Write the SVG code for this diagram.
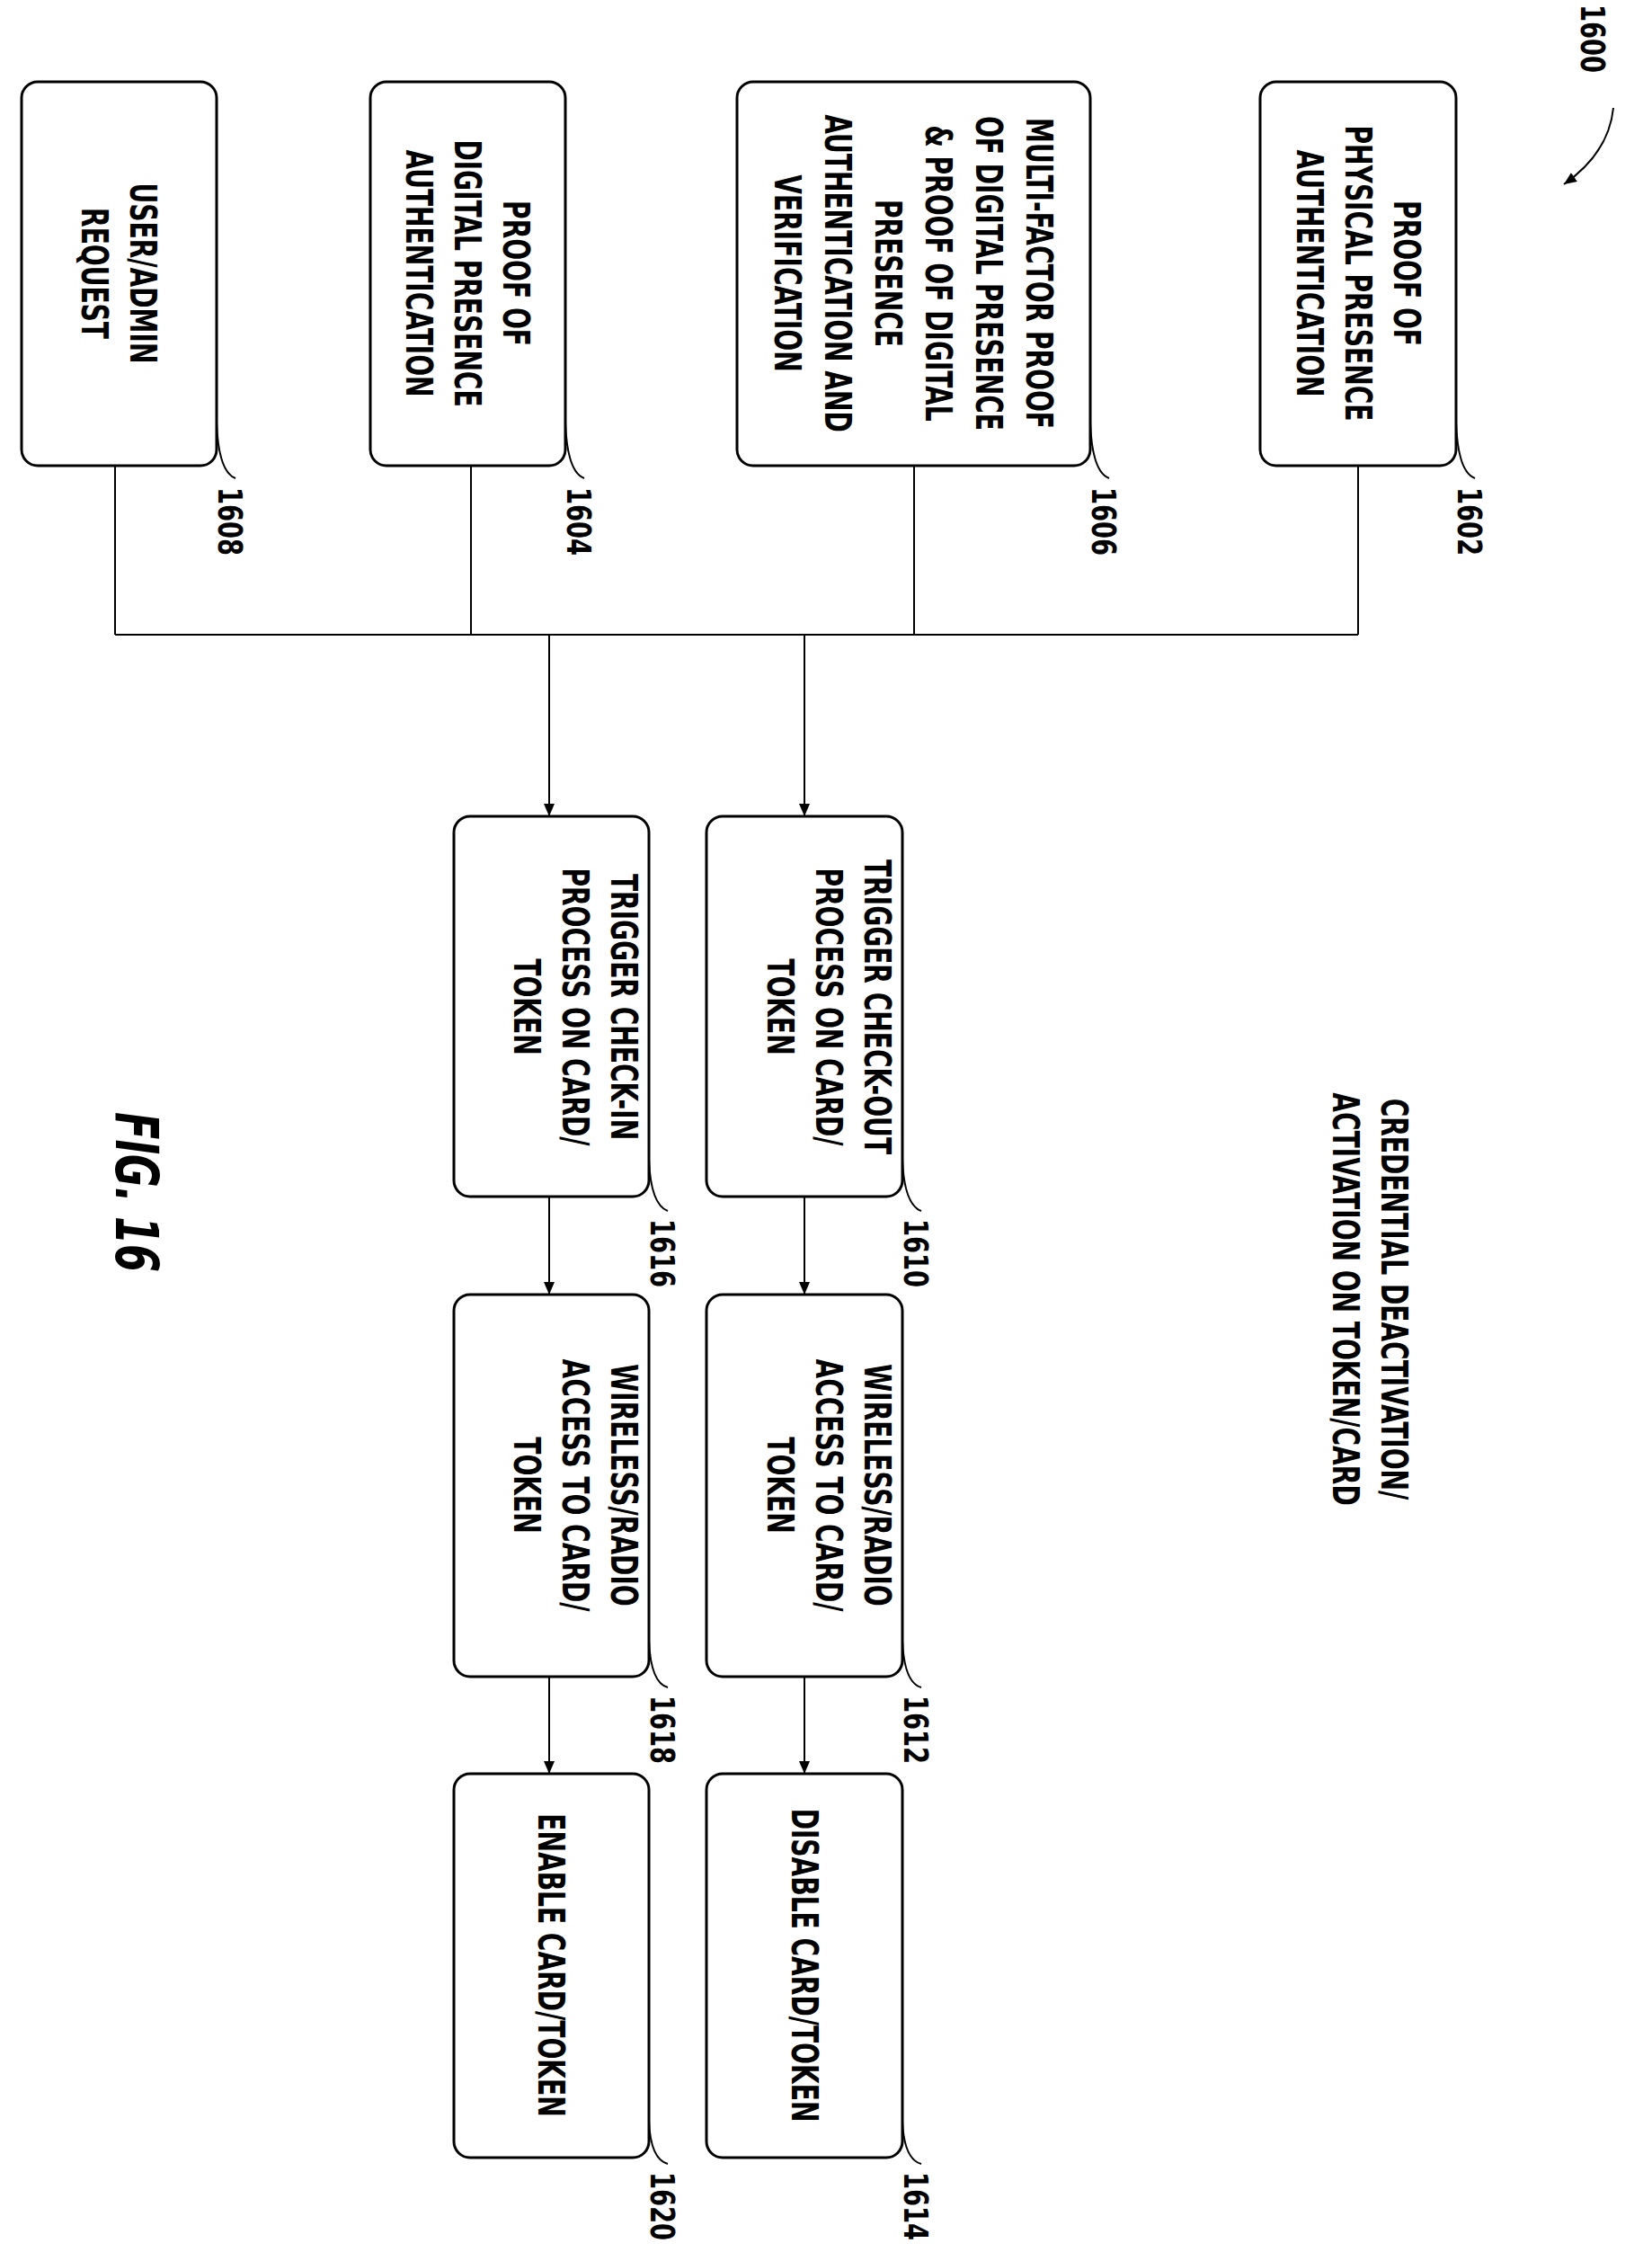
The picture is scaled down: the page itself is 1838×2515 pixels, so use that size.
<svg xmlns="http://www.w3.org/2000/svg" width="1838" height="2515" viewBox="0 0 1838 2515">
<style>
.b{fill:#fff;stroke:#000;stroke-width:3}
.t{font-family:"DejaVu Sans Condensed","DejaVu Sans",sans-serif;font-weight:bold;font-size:40px;text-anchor:middle;dominant-baseline:central}
.r{font-family:"DejaVu Sans Condensed","DejaVu Sans",sans-serif;font-weight:bold;font-size:38px;dominant-baseline:central}
.l{fill:none;stroke:#000;stroke-width:2}
</style>
<defs><marker id="a" markerWidth="16" markerHeight="14" refX="14" refY="6" orient="auto" markerUnits="userSpaceOnUse"><path d="M0,0 L14,6 L0,12 Z"/></marker></defs>
<g id="n1608"><rect class="b" x="24" y="91" width="217" height="427" rx="18"/><g transform="translate(132,304) rotate(90) scale(0.78,1)"><text class="t" y="-27">USER/ADMIN</text><text class="t" y="27">REQUEST</text></g></g>
<g id="n1604"><rect class="b" x="412" y="91" width="217" height="427" rx="18"/><g transform="translate(520,304) rotate(90) scale(0.78,1)"><text class="t" y="-54">PROOF OF</text><text class="t" y="0">DIGITAL PRESENCE</text><text class="t" y="54">AUTHENTICATION</text></g></g>
<g id="n1606"><rect class="b" x="820" y="91" width="393" height="427" rx="18"/><g transform="translate(1016,304) rotate(90) scale(0.78,1)"><text class="t" y="-140">MULTI-FACTOR PROOF</text><text class="t" y="-84">OF DIGITAL PRESENCE</text><text class="t" y="-28">&amp; PROOF OF DIGITAL</text><text class="t" y="28">PRESENCE</text><text class="t" y="84">AUTHENTICATION AND</text><text class="t" y="140">VERIFICATION</text></g></g>
<g id="n1602"><rect class="b" x="1402" y="91" width="218" height="427" rx="18"/><g transform="translate(1511,304) rotate(90) scale(0.78,1)"><text class="t" y="-54">PROOF OF</text><text class="t" y="0">PHYSICAL PRESENCE</text><text class="t" y="54">AUTHENTICATION</text></g></g>
<g id="n1616"><rect class="b" x="505" y="908" width="217" height="423" rx="18"/><g transform="translate(613,1120) rotate(90) scale(0.78,1)"><text class="t" y="-81">TRIGGER CHECK-IN</text><text class="t" y="-27">PROCESS ON CARD/</text><text class="t" y="27">TOKEN</text></g></g>
<g id="n1610"><rect class="b" x="786" y="908" width="218" height="423" rx="18"/><g transform="translate(895,1120) rotate(90) scale(0.78,1)"><text class="t" y="-81">TRIGGER CHECK-OUT</text><text class="t" y="-27">PROCESS ON CARD/</text><text class="t" y="27">TOKEN</text></g></g>
<g id="n1618"><rect class="b" x="505" y="1440" width="217" height="425" rx="18"/><g transform="translate(613,1652) rotate(90) scale(0.78,1)"><text class="t" y="-81">WIRELESS/RADIO</text><text class="t" y="-27">ACCESS TO CARD/</text><text class="t" y="27">TOKEN</text></g></g>
<g id="n1612"><rect class="b" x="786" y="1440" width="218" height="425" rx="18"/><g transform="translate(895,1652) rotate(90) scale(0.78,1)"><text class="t" y="-81">WIRELESS/RADIO</text><text class="t" y="-27">ACCESS TO CARD/</text><text class="t" y="27">TOKEN</text></g></g>
<g id="n1620"><rect class="b" x="505" y="1973" width="217" height="427" rx="18"/><g transform="translate(613,2186) rotate(90) scale(0.78,1)"><text class="t">ENABLE CARD/TOKEN</text></g></g>
<g id="n1614"><rect class="b" x="786" y="1973" width="218" height="427" rx="18"/><g transform="translate(895,2186) rotate(90) scale(0.78,1)"><text class="t">DISABLE CARD/TOKEN</text></g></g>
<g id="connectors" class="l">
<path d="M128 518V706M524 518V706M1017 518V706M1511 518V706M128 706H1511"/>
<path d="M611 706V908" marker-end="url(#a)"/>
<path d="M895 706V908" marker-end="url(#a)"/>
<path d="M611 1331V1440" marker-end="url(#a)"/>
<path d="M895 1331V1440" marker-end="url(#a)"/>
<path d="M611 1865V1973" marker-end="url(#a)"/>
<path d="M895 1865V1973" marker-end="url(#a)"/>
<path d="M241 470Q243 525 262 532M629 470Q631 525 650 532M1213 470Q1215 525 1234 532M1620 470Q1622 525 1641 532"/>
<path d="M722 1290Q724 1340 743 1347M1004 1290Q1006 1340 1025 1347M722 1825Q724 1872 743 1877M1004 1825Q1006 1872 1025 1877M722 2360Q724 2402 743 2407M1004 2360Q1006 2402 1025 2407"/>
<path d="M1795 120Q1790 170 1740 205" marker-end="url(#a)"/>
</g>
<g id="labels">
<g transform="translate(1524,1445) rotate(90) scale(0.78,1)"><text class="t" y="-27">CREDENTIAL DEACTIVATION/</text><text class="t" y="27">ACTIVATION ON TOKEN/CARD</text></g>
<g transform="translate(152,1326) rotate(90) scale(0.75,1)"><text class="t" style="font-size:66px;font-style:italic">FIG. 16</text></g>
<g class="r">
<text transform="translate(256,542) rotate(90) scale(0.8,1)">1608</text><text transform="translate(644,542) rotate(90) scale(0.8,1)">1604</text><text transform="translate(1228,542) rotate(90) scale(0.8,1)">1606</text><text transform="translate(1635,542) rotate(90) scale(0.8,1)">1602</text>
<text transform="translate(737,1356) rotate(90) scale(0.8,1)">1616</text><text transform="translate(1019,1356) rotate(90) scale(0.8,1)">1610</text><text transform="translate(737,1886) rotate(90) scale(0.8,1)">1618</text><text transform="translate(1019,1886) rotate(90) scale(0.8,1)">1612</text><text transform="translate(737,2416) rotate(90) scale(0.8,1)">1620</text><text transform="translate(1019,2416) rotate(90) scale(0.8,1)">1614</text>
<text transform="translate(1772,5) rotate(90) scale(0.8,1)">1600</text></g>
</g>
</svg>
